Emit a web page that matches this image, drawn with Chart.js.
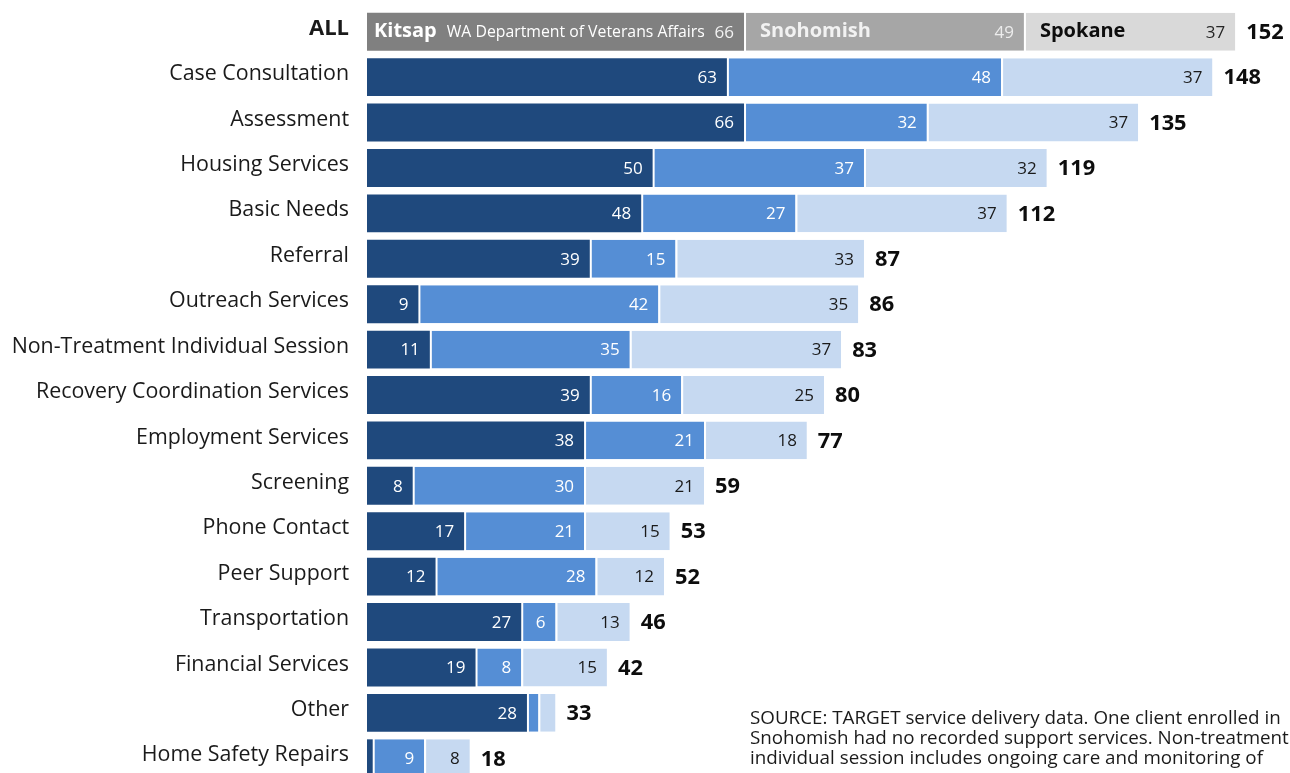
<!DOCTYPE html>
<html>
<head>
<meta charset="utf-8">
<script src="https://cdn.jsdelivr.net/npm/chart.js@4/dist/chart.umd.min.js"></script>
<style>
  html, body { margin: 0; padding: 0; background: #ffffff; overflow: hidden; }
  #frame { position: relative; width: 1290px; height: 773px; overflow: hidden; }
  #wrap { position: absolute; left: 0; top: 0; width: 1290px; height: 790px; }
  #note {
    position: absolute; left: 750px; top: 707px; width: 540px; white-space: nowrap;
    font: 18.8px "Open Sans", sans-serif; color: #1a1a1a; line-height: 20px;
  }
</style>
</head>
<body>
<div id="frame">
  <div id="wrap"><canvas id="chart"></canvas></div>
  <div id="note">SOURCE: TARGET service delivery data. One client enrolled in<br>Snohomish had no recorded support services. Non-treatment<br>individual session includes ongoing care and monitoring of</div>
</div>
<script>
// Support services delivered, by service type and site
const categories = [
  'ALL', 'Case Consultation', 'Assessment', 'Housing Services', 'Basic Needs',
  'Referral', 'Outreach Services', 'Non-Treatment Individual Session',
  'Recovery Coordination Services', 'Employment Services', 'Screening',
  'Phone Contact', 'Peer Support', 'Transportation', 'Financial Services',
  'Other', 'Home Safety Repairs'
];
const siteNames = ['Kitsap', 'Snohomish', 'Spokane'];
const kitsapAgency = 'WA Department of Veterans Affairs';
const kitsap    = [66, 63, 66, 50, 48, 39,  9, 11, 39, 38,  8, 17, 12, 27, 19, 28, 1];
const snohomish = [49, 48, 32, 37, 27, 15, 42, 35, 16, 21, 30, 21, 28,  6,  8,  2, 9];
const spokane   = [37, 37, 37, 32, 37, 33, 35, 37, 25, 18, 21, 15, 12, 13, 15,  3, 8];
const totals    = [152, 148, 135, 119, 112, 87, 86, 83, 80, 77, 59, 53, 52, 46, 42, 33, 18];

const FONT = '"Open Sans", sans-serif';
// first row (all services) uses greys, service rows use blues
const greys = ['#808080', '#a6a6a6', '#d9d9d9'];
const blues = ['#1f497d', '#558ed5', '#c6d9f1'];
const valueColors = ['#ffffff', '#ffffff', '#1a1a1a'];
const allValueColors = ['#f2f2f2', '#ececec', '#262626'];
const allNameColors = ['#ffffff', '#f2f2f2', '#0d0d0d'];

function makeDataset(label, data, k) {
  return {
    label,
    data,
    backgroundColor: data.map((_, i) => i === 0 ? greys[k] : blues[k]),
    borderColor: '#ffffff',
    borderWidth: k === 0 ? 0 : { left: 2, right: 0, top: 0, bottom: 0 },
    borderSkipped: false,
    categoryPercentage: 1,
    barPercentage: 0.835
  };
}

const labelPlugin = {
  id: 'segmentLabels',
  afterDatasetsDraw(chart) {
    const ctx = chart.ctx;
    ctx.save();
    const ends = [];
    chart.data.datasets.forEach((ds, k) => {
      const meta = chart.getDatasetMeta(k);
      meta.data.forEach((el, i) => {
        const p = el.getProps(['x', 'base', 'y'], true);
        ends[i] = p.x;
        const w = p.x - p.base;
        const v = ds.data[i];
        ctx.textBaseline = 'middle';
        if (i === 0) {
          // site names inside the summary bar
          const nameX = p.base + (k === 0 ? 7 : 16);
          ctx.textAlign = 'left';
          ctx.fillStyle = allNameColors[k];
          ctx.font = 'bold 20px ' + FONT;
          ctx.fillText(siteNames[k], nameX, p.y);
          if (k === 0) {
            const nw = ctx.measureText(siteNames[k]).width;
            ctx.font = '15.8px ' + FONT;
            ctx.fillText(kitsapAgency, nameX + nw + 10, p.y + 1);
          }
          ctx.textAlign = 'right';
          ctx.font = '17px ' + FONT;
          ctx.fillStyle = allValueColors[k];
          ctx.fillText(String(v), p.x - 10, p.y + 1);
        } else if (w >= 30) {
          ctx.textAlign = 'right';
          ctx.font = '17px ' + FONT;
          ctx.fillStyle = valueColors[k];
          ctx.fillText(String(v), p.x - 10, p.y + 1);
        }
      });
    });
    // totals at the end of each bar
    ctx.textAlign = 'left';
    ctx.font = 'bold 21.8px ' + FONT;
    ctx.fillStyle = '#0d0d0d';
    totals.forEach((t, i) => {
      const y = chart.getDatasetMeta(0).data[i].y;
      ctx.fillText(String(t), ends[i] + 11, y + 1);
    });
    ctx.restore();
  }
};

new Chart(document.getElementById('chart'), {
  type: 'bar',
  data: {
    labels: categories,
    datasets: [
      makeDataset(siteNames[0], kitsap, 0),
      makeDataset(siteNames[1], snohomish, 1),
      makeDataset(siteNames[2], spokane, 2)
    ]
  },
  options: {
    indexAxis: 'y',
    responsive: true,
    maintainAspectRatio: false,
    animation: false,
    layout: { padding: { top: 9, bottom: 9, left: 0, right: 9 } },
    plugins: { legend: { display: false }, tooltip: { enabled: false } },
    scales: {
      x: { stacked: true, min: 0, max: 160, display: false },
      y: {
        stacked: true,
        grid: { display: false, drawTicks: false },
        border: { display: false },
        afterFit(scale) {
          scale.width = 367;
          scale.paddingTop = 0;
          scale.paddingBottom = 0;
        },
        ticks: {
          padding: 18,
          labelOffset: -3,
          color: '#1a1a1a',
          font: (c) => c.index === 0
            ? { family: FONT, size: 22, weight: 'bold' }
            : { family: FONT, size: 21.4 }
        }
      }
    }
  },
  plugins: [labelPlugin]
});
</script>
</body>
</html>
